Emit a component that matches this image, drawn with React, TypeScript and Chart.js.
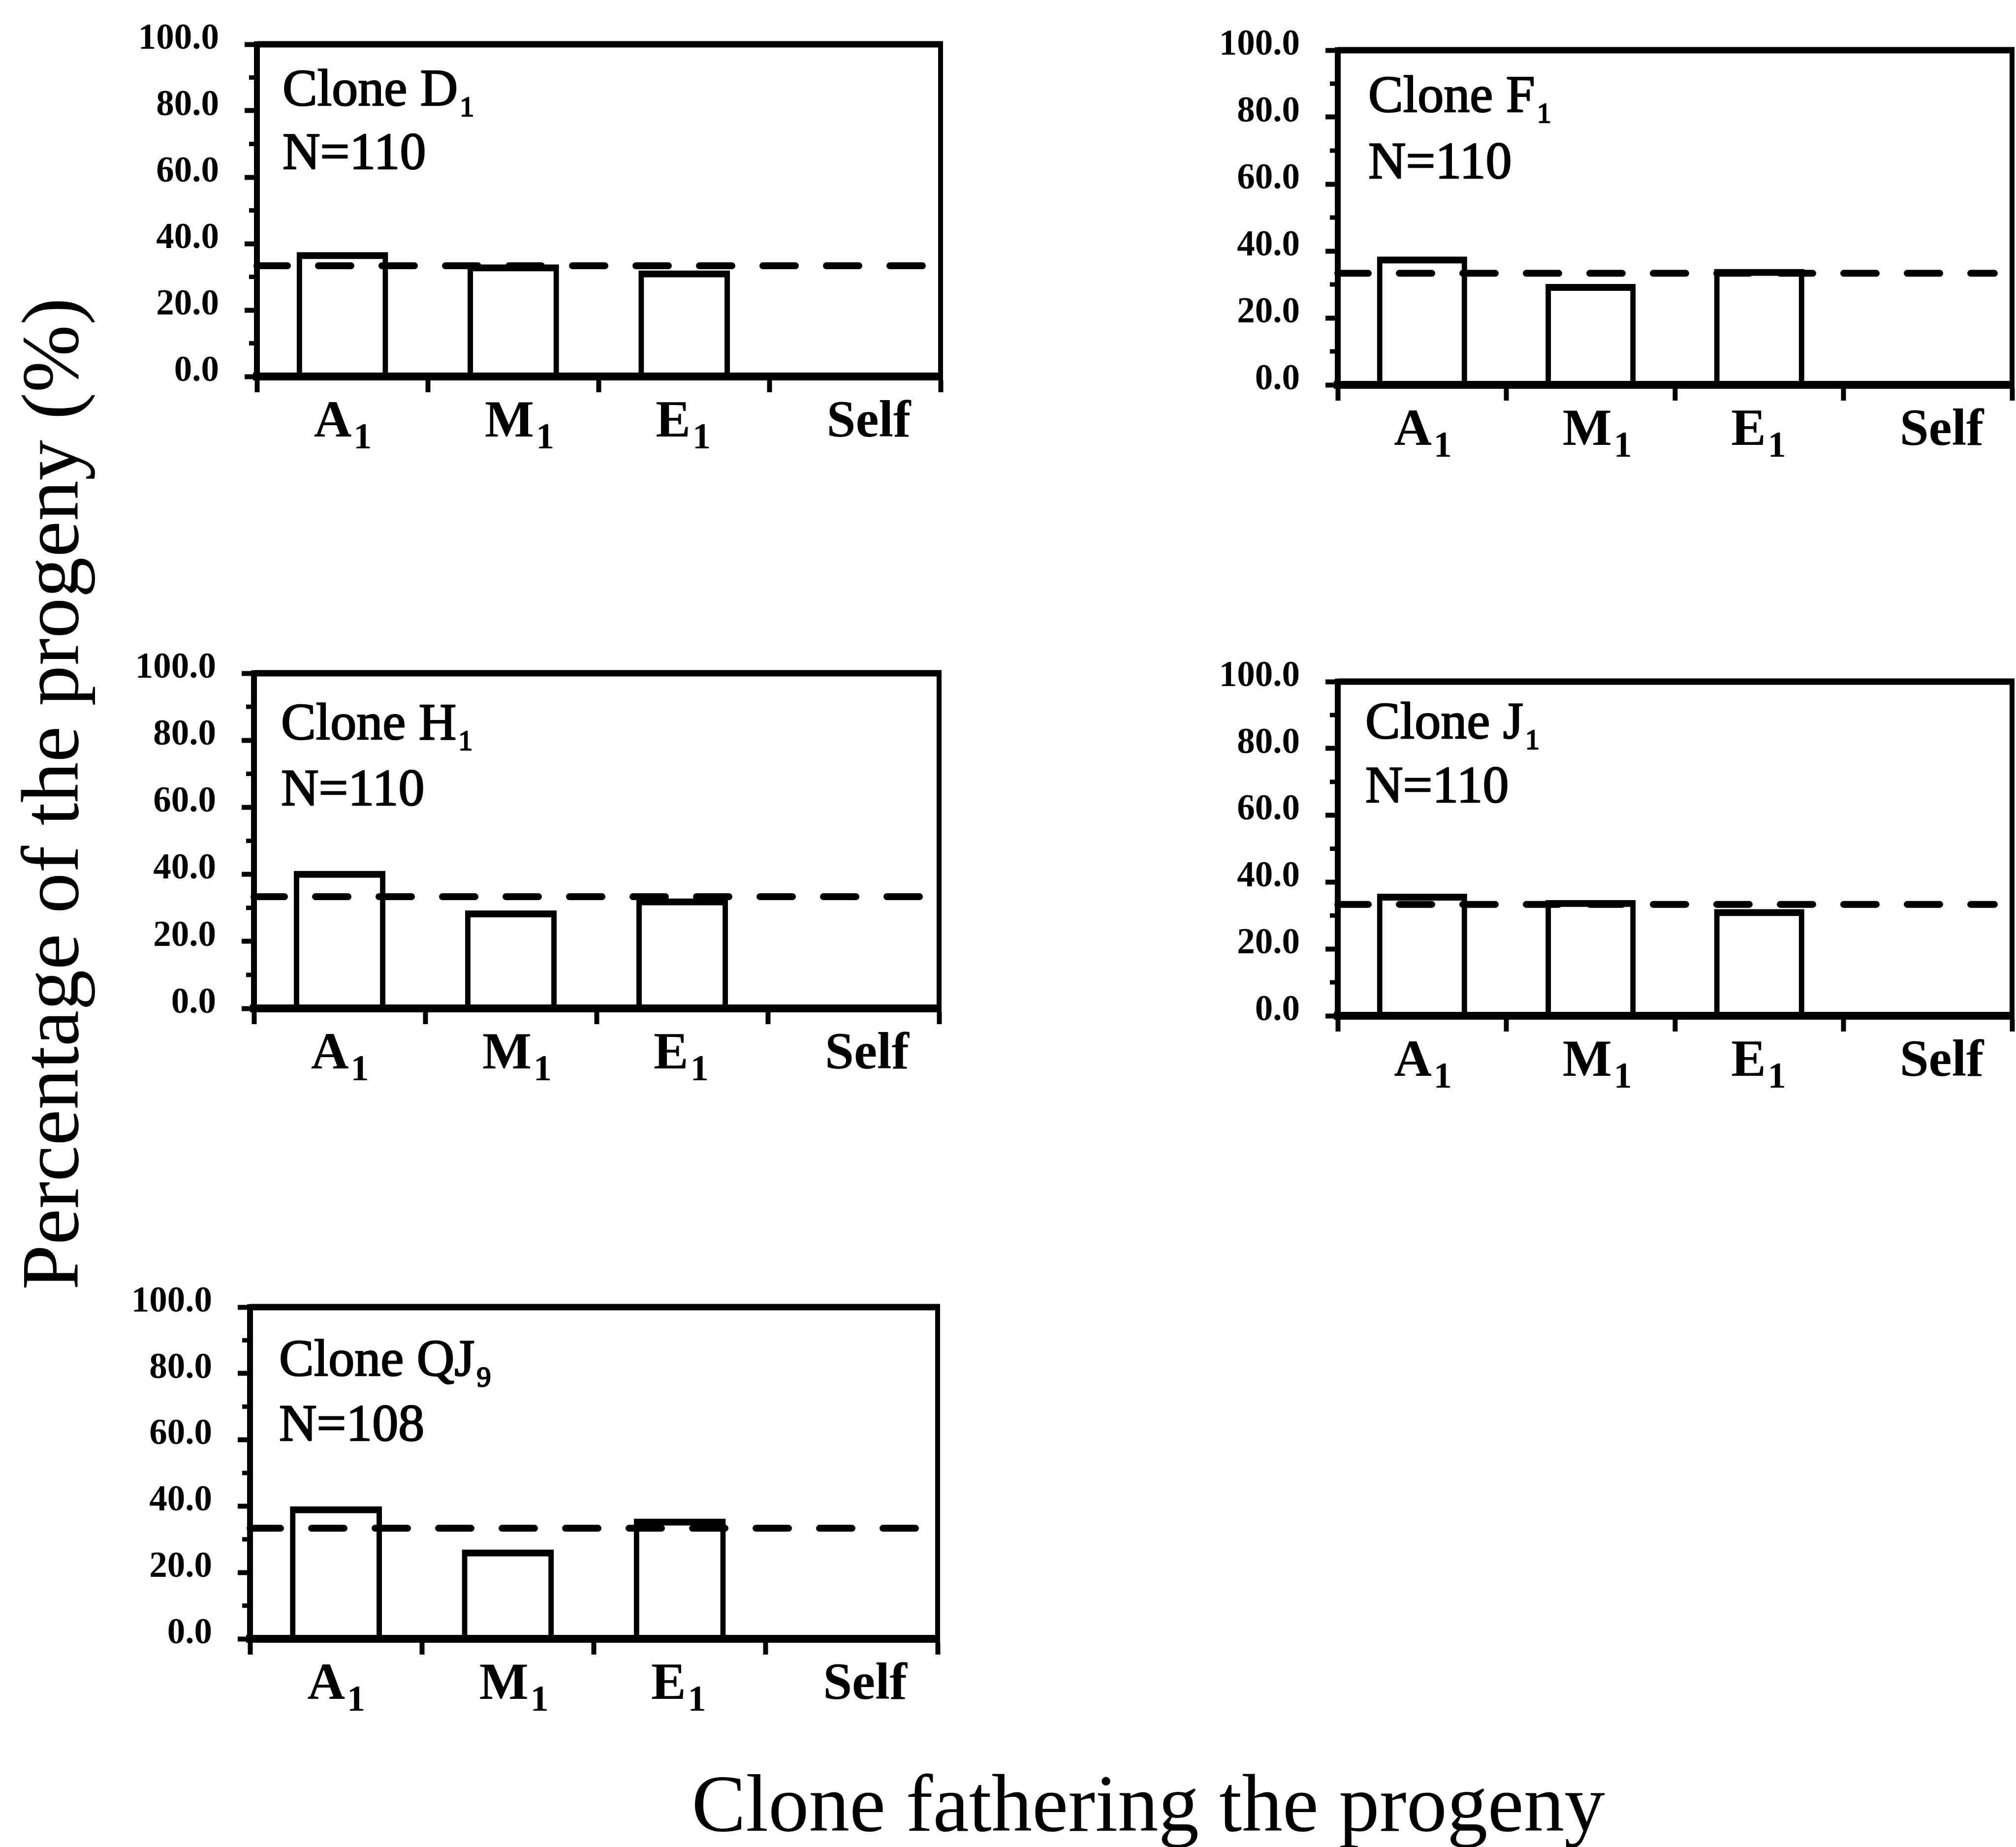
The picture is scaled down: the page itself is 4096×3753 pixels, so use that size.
import React, { useEffect, useRef } from 'react';
import { Chart, registerables } from 'chart.js';

Chart.register(...registerables);

// Pollen donors on the x axis (main letter + subscript)
const FATHERS = ['A', 'M', 'E', 'Self'];
const FATHER_SUBSCRIPTS = ['1', '1', '1', ''];

// Percentage of the progeny fathered by each donor, one array per mother clone
const CLONE_D1 = [36.4, 32.7, 30.9, 0];
const CLONE_F1 = [37.3, 29.1, 33.6, 0];
const CLONE_H1 = [40.0, 28.2, 31.8, 0];
const CLONE_J1 = [35.5, 33.6, 30.9, 0];
const CLONE_QJ9 = [38.9, 25.9, 35.2, 0];

// Mother clones: name, subscript, progeny count
const CLONE_NAMES = ['D', 'F', 'H', 'J', 'QJ'];
const CLONE_SUBSCRIPTS = ['1', '1', '1', '1', '9'];
const PROGENY_COUNTS = [110, 110, 110, 110, 108];

// Expected share if the three donors contribute equally
const EXPECTED_SHARE = 100 / 3;

// Value axis
const Y_MIN = 0;
const Y_MAX = 100;
const Y_MAJOR_STEP = 20;
const Y_MINOR_STEP = 10;

const X_TITLE = 'Clone fathering the progeny';
const Y_TITLE = 'Percentage of the progeny (%)';

// ---- layout (page pixels) ----
const PAGE_W = 4096;
const PAGE_H = 3753;
const FONT = '"Liberation Serif", "Times New Roman", serif';
const AXIS_W = 300;
const TOP_PAD = 110;
const X_AXIS_H = 220;
const BAR_TOP_STROKE = 14;

type PanelLayout = {
  box: [number, number, number, number]; // plot left, top, right, bottom
  labelDx: number;
  nameBase: number;
  countBase: number;
};

const PANEL_VALUES = [CLONE_D1, CLONE_F1, CLONE_H1, CLONE_J1, CLONE_QJ9];
const PANEL_LAYOUT: PanelLayout[] = [
  { box: [522, 90, 1911, 765], labelDx: 52, nameBase: 124, countBase: 253 },
  { box: [2718, 102, 4088, 782], labelDx: 62, nameBase: 125, countBase: 260 },
  { box: [516, 1368, 1908, 2049], labelDx: 55, nameBase: 134, countBase: 268 },
  { box: [2718, 1385, 4088, 2064], labelDx: 56, nameBase: 115, countBase: 245 },
  { box: [508, 2656, 1905, 3330], labelDx: 59, nameBase: 139, countBase: 271 },
];

// Draws the expected-share line, the closed frame, minor ticks, donor labels and the clone caption
const panelDecor = {
  id: 'panelDecor',
  beforeDatasetsDraw(chart: any) {
    // centre the bars' top stroke on the value instead of inside it
    chart.ctx.save();
    chart.ctx.translate(0, -BAR_TOP_STROKE / 2);
  },
  afterDatasetsDraw(chart: any, _args: any, opts: any) {
    const { ctx, chartArea: a, scales } = chart;
    ctx.restore();
    const xs = scales.x;
    const ys = scales.y;
    ctx.save();
    ctx.strokeStyle = '#000';
    ctx.fillStyle = '#000';

    // dashed reference line
    const ey = ys.getPixelForValue(EXPECTED_SHARE);
    ctx.lineWidth = 14;
    ctx.lineCap = 'round';
    ctx.setLineDash([66, 63]);
    ctx.lineDashOffset = 4;
    ctx.beginPath();
    ctx.moveTo(a.left, ey);
    ctx.lineTo(a.right - 36, ey);
    ctx.stroke();
    ctx.setLineDash([]);

    // top and right sides of the frame
    ctx.lineCap = 'butt';
    ctx.lineWidth = 13;
    ctx.beginPath();
    ctx.moveTo(a.left, a.top);
    ctx.lineTo(a.right + 5, a.top);
    ctx.stroke();
    ctx.lineWidth = 10;
    ctx.beginPath();
    ctx.moveTo(a.right, a.top);
    ctx.lineTo(a.right, a.bottom);
    ctx.stroke();

    // bottom axis redrawn over the bar feet
    ctx.lineWidth = 16;
    ctx.beginPath();
    ctx.moveTo(a.left, a.bottom);
    ctx.lineTo(a.right + 5, a.bottom);
    ctx.stroke();

    // minor ticks between the labelled ones
    ctx.lineWidth = 9;
    for (let v = Y_MIN + Y_MINOR_STEP; v < Y_MAX; v += Y_MAJOR_STEP) {
      const py = ys.getPixelForValue(v);
      ctx.beginPath();
      ctx.moveTo(a.left - 16, py);
      ctx.lineTo(a.left, py);
      ctx.stroke();
    }

    // donor labels with subscripts
    const catW = (a.right - a.left) / FATHERS.length;
    ctx.textAlign = 'left';
    ctx.textBaseline = 'alphabetic';
    FATHERS.forEach((name, i) => {
      const left = xs.getPixelForValue(i) - catW / 2 + catW / 3;
      const base = a.bottom + 122;
      ctx.font = `bold 106px ${FONT}`;
      ctx.fillText(name, left, base);
      const sub = FATHER_SUBSCRIPTS[i];
      if (sub) {
        const w = ctx.measureText(name).width;
        ctx.font = `bold 74px ${FONT}`;
        ctx.fillText(sub, left + w + 4, base + 24);
      }
    });

    // clone caption (slightly stroked for weight)
    ctx.lineWidth = 2.5;
    ctx.lineJoin = 'round';
    const lx = a.left + opts.labelDx;
    const title = 'Clone ' + opts.name;
    const nameY = a.top + opts.nameBase;
    const countY = a.top + opts.countBase;
    ctx.font = `106px ${FONT}`;
    ctx.fillText(title, lx, nameY);
    ctx.strokeText(title, lx, nameY);
    const tw = ctx.measureText(title).width;
    ctx.font = `58px ${FONT}`;
    ctx.fillText(opts.sub, lx + tw + 4, nameY + 22);
    ctx.strokeText(opts.sub, lx + tw + 4, nameY + 22);
    ctx.font = `106px ${FONT}`;
    const count = 'N=' + opts.count;
    ctx.fillText(count, lx, countY);
    ctx.strokeText(count, lx, countY);

    ctx.restore();
  },
};

function Panel({ index }: { index: number }) {
  const ref = useRef<HTMLCanvasElement>(null);
  const layout = PANEL_LAYOUT[index];
  const [L, T, R, B] = layout.box;
  const rightPad = Math.min(30, PAGE_W - R);
  const w = R - L + AXIS_W + rightPad;
  const h = B - T + TOP_PAD + X_AXIS_H;

  useEffect(() => {
    const canvas = ref.current;
    if (!canvas) return;
    const chart = new Chart(canvas, {
      type: 'bar',
      data: {
        labels: FATHERS.map((f, i) => f + FATHER_SUBSCRIPTS[i]),
        datasets: [
          {
            data: PANEL_VALUES[index],
            backgroundColor: 'rgba(0,0,0,0)',
            borderColor: '#000',
            borderWidth: { top: BAR_TOP_STROKE, left: 11, right: 11, bottom: 0 },
            borderSkipped: 'bottom',
            barPercentage: 0.535,
            categoryPercentage: 1,
          },
        ],
      },
      options: {
        responsive: false,
        animation: false,
        devicePixelRatio: 1,
        events: [],
        layout: { padding: { left: 0, top: TOP_PAD, right: rightPad, bottom: 0 } },
        plugins: {
          legend: { display: false },
          tooltip: { enabled: false },
          panelDecor: {
            name: CLONE_NAMES[index],
            sub: CLONE_SUBSCRIPTS[index],
            count: PROGENY_COUNTS[index],
            labelDx: layout.labelDx,
            nameBase: layout.nameBase,
            countBase: layout.countBase,
          },
        } as any,
        scales: {
          x: {
            type: 'category',
            offset: true,
            grid: {
              offset: true,
              drawOnChartArea: false,
              drawTicks: true,
              tickLength: 32,
              tickWidth: 10,
              color: '#000',
            },
            border: { display: true, width: 16, color: '#000' },
            ticks: { display: false },
            afterFit: (s: any) => {
              s.height = X_AXIS_H;
            },
          },
          y: {
            min: Y_MIN,
            max: Y_MAX,
            grid: {
              drawOnChartArea: false,
              drawTicks: true,
              tickLength: 25,
              tickWidth: 10,
              color: '#000',
            },
            border: { display: true, width: 12, color: '#000' },
            ticks: {
              stepSize: Y_MAJOR_STEP,
              padding: 52,
              labelOffset: -10,
              color: '#000',
              font: { family: FONT, size: 73, weight: 'bold' },
              callback: (v: any) => Number(v).toFixed(1),
            },
            afterFit: (s: any) => {
              s.width = AXIS_W;
            },
          },
        },
      },
      plugins: [panelDecor as any],
    } as any);
    return () => chart.destroy();
  }, [index]);

  return (
    <canvas
      ref={ref}
      width={w}
      height={h}
      style={{ position: 'absolute', left: L - AXIS_W, top: T - TOP_PAD, width: w, height: h, display: 'block' }}
    />
  );
}

export default function App() {
  return (
    <div
      style={{
        position: 'absolute',
        left: 0,
        top: 0,
        width: PAGE_W,
        height: PAGE_H,
        overflow: 'hidden',
        background: '#fff',
        fontFamily: FONT,
        color: '#000',
      }}
    >
      {PANEL_VALUES.map((_, i) => (
        <Panel key={i} index={i} />
      ))}
      <div
        style={{
          position: 'absolute',
          left: 20,
          top: 2813,
          width: 2400,
          height: 165,
          fontSize: 165,
          lineHeight: '165px',
          textAlign: 'center',
          whiteSpace: 'nowrap',
          transformOrigin: '0 0',
          transform: 'rotate(-90deg)',
        }}
      >
        {Y_TITLE}
      </div>
      <div
        style={{
          position: 'absolute',
          left: 2333 - 1200,
          top: 3582,
          width: 2400,
          height: 165,
          fontSize: 165,
          lineHeight: '165px',
          textAlign: 'center',
          whiteSpace: 'nowrap',
        }}
      >
        {X_TITLE}
      </div>
    </div>
  );
}
